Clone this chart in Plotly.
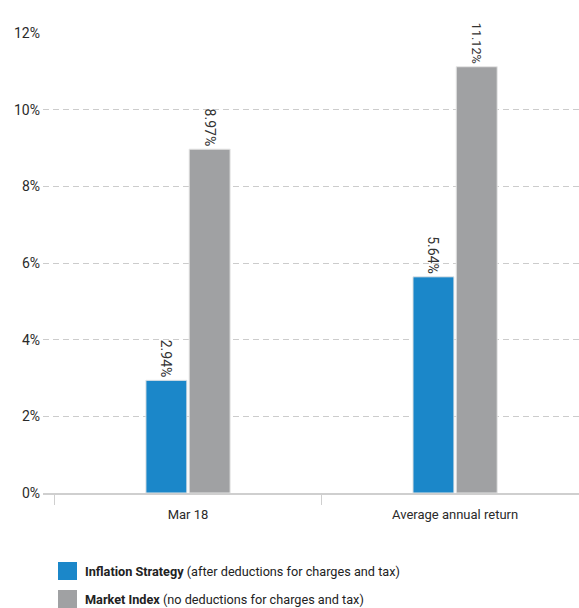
import plotly.graph_objects as go

categories = ["Mar 18", "Average annual return"]
inflation_strategy = [2.94, 5.64]
market_index = [8.97, 11.12]
y_ticks = [0, 2, 4, 6, 8, 10, 12]
y_tick_labels = ["0%", "2%", "4%", "6%", "8%", "10%", "12%"]
series_names = ["Inflation Strategy", "Market Index"]
series_notes = ["(after deductions for charges and tax)", "(no deductions for charges and tax)"]
colors = ["#1b87c9", "#a0a1a3"]

W, H = 579, 608
ML, MR, MT, MB = 43, 0, 33, 115
FONT = "Roboto"

fig = go.Figure()
for name, vals, col in zip(series_names, [inflation_strategy, market_index], colors):
    fig.add_trace(go.Bar(
        x=categories, y=vals, name=name,
        marker=dict(color=col, line=dict(color="#e6e6e6", width=1)),
        text=[f"{v:.2f}%" for v in vals],
        textposition="outside", textangle=90,
        textfont=dict(family=FONT, size=14, color="#333333"),
        cliponaxis=False, hoverinfo="skip",
    ))

fig.update_layout(
    width=W, height=H,
    margin=dict(l=ML, r=MR, t=MT, b=MB, autoexpand=False),
    plot_bgcolor="white", paper_bgcolor="white",
    barmode="group", bargap=0.676, bargroupgap=0.053,
    showlegend=False,
    font=dict(family=FONT, color="#333333"),
    xaxis=dict(
        range=[-0.543, 1.464], showgrid=False, showline=True,
        linecolor="#cfcfcf", linewidth=1.5, automargin=False,
        ticks="outside", tickson="boundaries", ticklen=10, tickcolor="#cfcfcf",
        tickfont=dict(family=FONT, size=13, color="#2a2a2a"),
        ticklabelstandoff=9,
    ),
    yaxis=dict(
        range=[0, 12], tickvals=y_ticks, ticktext=y_tick_labels,
        showgrid=True, gridcolor="#cccccc", griddash="6px,4px", gridwidth=1,
        zeroline=False, showline=False, ticks="", automargin=False,
        tickfont=dict(family=FONT, size=14, color="#2a2a2a"),
        ticklabelstandoff=2,
    ),
)

ph = H - MT - MB
def py(pix):
    return (H - MB - pix) / ph
def px(pix):
    return (pix - ML) / (W - ML - MR)

legend_rows = [(562, 580), (590, 608)]
for (y0, y1), name, note, col in zip(legend_rows, series_names, series_notes, colors):
    fig.add_shape(type="rect", xref="paper", yref="paper",
                  x0=px(58), x1=px(77), y0=py(y1), y1=py(y0),
                  fillcolor=col, line=dict(width=0))
    fig.add_annotation(xref="paper", yref="paper", x=px(83), y=py((y0 + y1) / 2),
                       xanchor="left", yanchor="middle", showarrow=False,
                       text=f"<b>{name}</b> {note}",
                       font=dict(family=FONT, size=12.7, color="#222222"))

fig.write_html("out.html", config={"displayModeBar": False},
               post_script="document.body.style.margin='0';document.body.style.overflow='hidden';")
